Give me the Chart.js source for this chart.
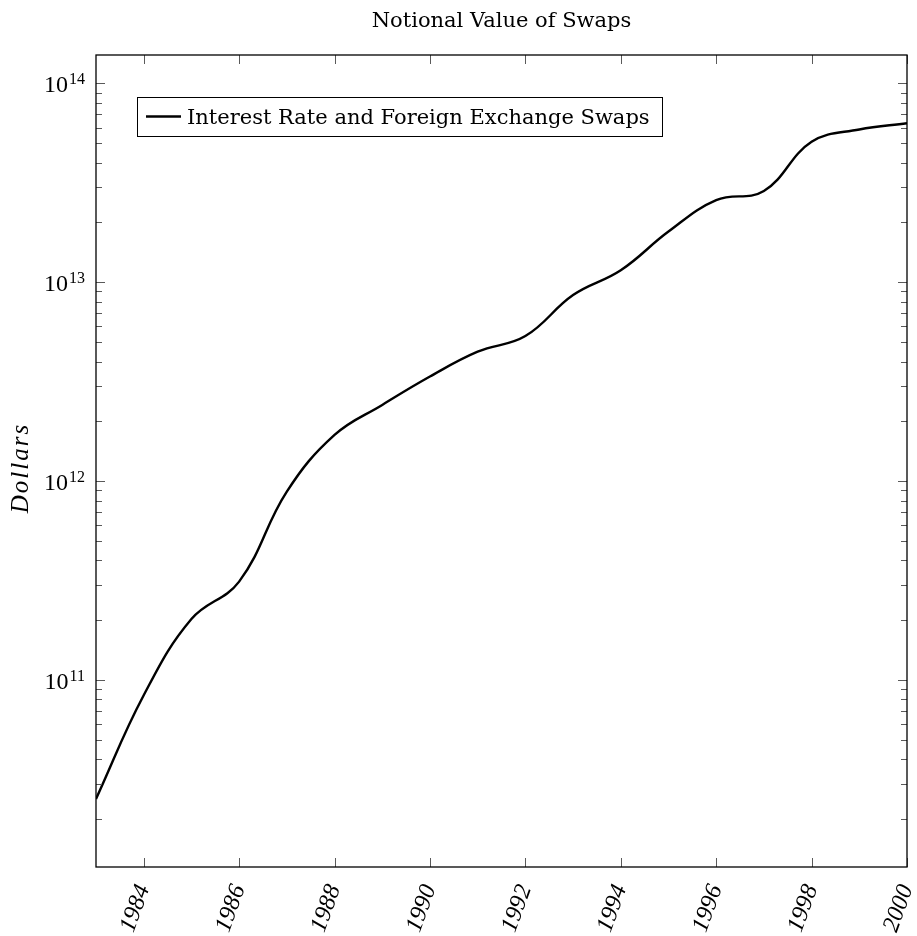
<!DOCTYPE html>
<html>
<head>
<meta charset="utf-8">
<script src="https://cdn.jsdelivr.net/npm/chart.js@4/dist/chart.umd.min.js"></script>
<style>
  html, body { margin: 0; padding: 0; background: #ffffff; }
  canvas { display: block; }
</style>
</head>
<body>
<canvas id="swaps" width="917" height="936"></canvas>
<script>
// ---- data ----
const chartTitle = 'Notional Value of Swaps';
const seriesLabel = 'Interest Rate and Foreign Exchange Swaps';
const yAxisTitle = 'Dollars';

const years = [1983, 1984, 1985, 1986, 1987, 1988, 1989, 1990, 1991,
               1992, 1993, 1994, 1995, 1996, 1997, 1998, 1999, 2000];
const notional = [2.53e10, 8.4e10, 2.03e11, 3.13e11, 8.87e11, 1.71e12,
                  2.42e12, 3.36e12, 4.48e12, 5.37e12, 8.63e12, 1.15e13,
                  1.80e13, 2.59e13, 2.88e13, 5.09e13, 5.87e13, 6.31e13];

const yearTicks = [1984, 1986, 1988, 1990, 1992, 1994, 1996, 1998, 2000];
const yearMin = 1983, yearMax = 2000;
const dollarMin = 1.15e10, dollarMax = 1.39e14;

// ---- fonts ----
const serif = "'DejaVu Serif', 'Liberation Serif', serif";
const numSerif = "'Liberation Serif', 'DejaVu Serif', serif";

// Inward tick marks, frame, exponent tick labels, title, axis title and boxed legend
const decorations = {
  id: 'decorations',
  afterDraw(chart) {
    const { ctx, chartArea: a, scales } = chart;
    const xs = scales.x, ys = scales.y;
    ctx.save();

    // tick marks on all four sides, pointing inward
    ctx.strokeStyle = '#5a5a5a';
    ctx.lineWidth = 1;
    ys.ticks.forEach(t => {
      const p = Math.round(ys.getPixelForValue(t.value)) + 0.5;
      const len = t.major ? 9 : 6;
      ctx.beginPath();
      ctx.moveTo(a.left, p); ctx.lineTo(a.left + len, p);
      ctx.moveTo(a.right, p); ctx.lineTo(a.right - len, p);
      ctx.stroke();
    });
    xs.ticks.forEach(t => {
      const p = Math.round(xs.getPixelForValue(t.value)) + 0.5;
      ctx.beginPath();
      ctx.moveTo(p, a.bottom); ctx.lineTo(p, a.bottom - 9);
      ctx.moveTo(p, a.top); ctx.lineTo(p, a.top + 9);
      ctx.stroke();
    });

    // plot frame
    ctx.strokeStyle = '#000';
    ctx.lineWidth = 1.3;
    ctx.strokeRect(a.left, a.top, a.right - a.left, a.bottom - a.top);

    // y tick labels: 10 with a raised exponent
    ctx.fillStyle = '#000';
    ctx.textAlign = 'right';
    ctx.textBaseline = 'alphabetic';
    ys.ticks.filter(t => t.major).forEach(t => {
      const p = ys.getPixelForValue(t.value);
      const exp = String(Math.round(Math.log10(t.value)));
      const xr = a.left - 11;
      ctx.font = `16px ${numSerif}`;
      const ew = ctx.measureText(exp).width;
      ctx.fillText(exp, xr, p + 0.5);
      ctx.font = `24px ${numSerif}`;
      ctx.fillText('10', xr - ew - 1, p + 9);
    });

    // chart title centred over the plot
    ctx.textAlign = 'center';
    ctx.font = `21px ${serif}`;
    ctx.fillText(chartTitle, (a.left + a.right) / 2, 27);

    // y axis title
    ctx.save();
    ctx.translate(28, (a.top + a.bottom) / 2 + 7);
    ctx.rotate(-Math.PI / 2);
    ctx.font = `italic 25px ${numSerif}`;
    ctx.letterSpacing = '2px';
    ctx.textAlign = 'center';
    ctx.fillText(yAxisTitle, 0, 0);
    ctx.restore();

    // legend box in the upper-left corner of the plot
    const ds = chart.data.datasets[0];
    const bx = a.left + 41, by = a.top + 42, bh = 39;
    const lineX0 = bx + 9, lineX1 = bx + 44, textX = bx + 50;
    ctx.font = `21px ${serif}`;
    ctx.textAlign = 'left';
    const tw = ctx.measureText(ds.label).width;
    const bw = textX - bx + tw + 12;
    ctx.fillStyle = '#fff';
    ctx.fillRect(bx, by, bw, bh);
    ctx.strokeStyle = '#000';
    ctx.lineWidth = 1;
    ctx.strokeRect(Math.round(bx) + 0.5, Math.round(by) + 0.5, Math.round(bw), bh);
    ctx.lineWidth = ds.borderWidth;
    ctx.strokeStyle = ds.borderColor;
    ctx.beginPath();
    ctx.moveTo(lineX0, by + 19.5); ctx.lineTo(lineX1, by + 19.5);
    ctx.stroke();
    ctx.fillStyle = '#000';
    ctx.fillText(ds.label, textX, by + 27);

    ctx.restore();
  }
};

new Chart(document.getElementById('swaps'), {
  type: 'line',
  data: {
    datasets: [{
      label: seriesLabel,
      data: years.map((yr, i) => ({ x: yr, y: notional[i] })),
      borderColor: '#000',
      borderWidth: 2.4,
      pointRadius: 0,
      tension: 0.4,
      fill: false
    }]
  },
  options: {
    responsive: false,
    animation: false,
    devicePixelRatio: 1,
    layout: { padding: { top: 55, right: 10, left: 0, bottom: 0 } },
    plugins: {
      legend: { display: false },
      title: { display: false },
      tooltip: { enabled: false }
    },
    scales: {
      x: {
        type: 'linear',
        min: yearMin,
        max: yearMax,
        afterBuildTicks: s => { s.ticks = yearTicks.map(v => ({ value: v })); },
        afterFit: s => { s.height = 69; s.paddingLeft = 0; s.paddingRight = 0; },
        grid: { display: false, drawTicks: false },
        border: { display: false },
        ticks: {
          color: '#000',
          minRotation: 70,
          maxRotation: 70,
          padding: 14,
          autoSkip: false,
          font: { family: numSerif, style: 'italic', size: 24 },
          callback: v => String(v)
        }
      },
      y: {
        type: 'logarithmic',
        min: dollarMin,
        max: dollarMax,
        afterBuildTicks: s => {
          const t = [];
          for (let e = 10; e <= 14; e++) {
            for (let m = 1; m <= 9; m++) {
              const v = m * Math.pow(10, e);
              if (v >= dollarMin && v <= dollarMax) t.push({ value: v, major: m === 1 });
            }
          }
          s.ticks = t;
        },
        afterFit: s => { s.width = 96; s.paddingTop = 0; s.paddingBottom = 0; },
        grid: { display: false, drawTicks: false },
        border: { display: false },
        ticks: { display: false }
      }
    }
  },
  plugins: [decorations]
});
</script>
</body>
</html>
